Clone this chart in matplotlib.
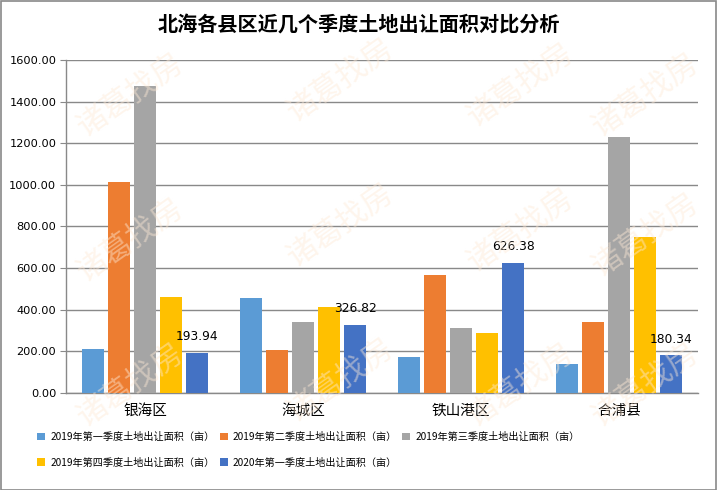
import numpy as np
import matplotlib.pyplot as plt
from matplotlib.patches import Rectangle

plt.rcParams['font.family'] = ['Noto Sans CJK SC', 'DejaVu Sans']

title = "北海各县区近几个季度土地出让面积对比分析"
districts = ["银海区", "海城区", "铁山港区", "合浦县"]
series_names = [
    "2019年第一季度土地出让面积（亩）",
    "2019年第二季度土地出让面积（亩）",
    "2019年第三季度土地出让面积（亩）",
    "2019年第四季度土地出让面积（亩）",
    "2020年第一季度土地出让面积（亩）",
]
q1_2019 = [210, 455, 173, 138]
q2_2019 = [1013, 205, 566, 340]
q3_2019 = [1476, 340, 311, 1230]
q4_2019 = [460, 412, 287, 749]
q1_2020 = [193.94, 326.82, 626.38, 180.34]
colors = ["#5b9bd5", "#ed7d31", "#a5a5a5", "#ffc000", "#4472c4"]
yticks = [0, 200, 400, 600, 800, 1000, 1200, 1400, 1600]

W, H = 717, 490
fig = plt.figure(figsize=(W / 100, H / 100), dpi=100)
ax = fig.add_axes([66 / W, 1 - 393 / H, 632 / W, 333 / H])

# faint watermark
for wx, wy in [(130, 95), (340, 80), (520, 85), (645, 95), (130, 240), (340, 225),
               (520, 230), (645, 235), (130, 385), (340, 380), (520, 385), (645, 385)]:
    fig.text(wx / W, 1 - wy / H, "诸葛找房", color="#fde9d6", fontsize=22,
             rotation=35, ha="center", va="center", alpha=0.45, zorder=0)

x = np.arange(len(districts))
all_series = [q1_2019, q2_2019, q3_2019, q4_2019, q1_2020]
step = 0.165
width = 0.139
handles = []
for i, (vals, c) in enumerate(zip(all_series, colors)):
    b = ax.bar(x + (i - 2) * step, vals, width, color=c, zorder=3, label=series_names[i])
    handles.append(b)
    if i == 4:
        for xi, v in zip(x + (i - 2) * step, vals):
            ax.annotate(f"{v:.2f}", (xi, v), xytext=(0, 7), textcoords="offset points",
                        ha="center", va="bottom", fontsize=8.8, family="DejaVu Sans",
                        zorder=4)

ax.set_xlim(-0.5, 3.5)
ax.set_ylim(0, 1600)
ax.set_yticks(yticks)
ax.set_yticklabels([f"{t:.2f}" for t in yticks], fontsize=8.2, family="DejaVu Sans")
ax.set_xticks(x)
ax.set_xticklabels(districts, fontsize=10.5)
ax.tick_params(axis="x", length=0, pad=8)
ax.tick_params(axis="y", length=4, color="#898989", direction="out", pad=3)
ax.grid(axis="y", color="#898989", linewidth=1, zorder=1)
ax.set_axisbelow(True)
ax.patch.set_alpha(0)
for s in ["top", "right"]:
    ax.spines[s].set_visible(False)
for s in ["left", "bottom"]:
    ax.spines[s].set_color("#898989")
    ax.spines[s].set_linewidth(1)

fig.text(0.5, 1 - 25 / H, title, ha="center", va="center", fontsize=14.5,
         fontweight="bold")

order = [0, 3, 1, 4, 2]
fig.legend([handles[k] for k in order], [series_names[k] for k in order],
           ncol=3, loc="upper left", bbox_to_anchor=(37 / W, 1 - 432 / H),
           frameon=False, fontsize=7.3, handlelength=0.8, handleheight=0.8,
           handletextpad=0.5, columnspacing=0.5, labelspacing=1.55,
           borderaxespad=0, borderpad=0)

fig.patches.append(Rectangle((0.5 / W, 0.5 / H), 1 - 1.5 / W, 1 - 1.5 / H,
                             transform=fig.transFigure, fill=False,
                             edgecolor="#898989", linewidth=1.2))

fig.savefig("out.png", dpi=100)
